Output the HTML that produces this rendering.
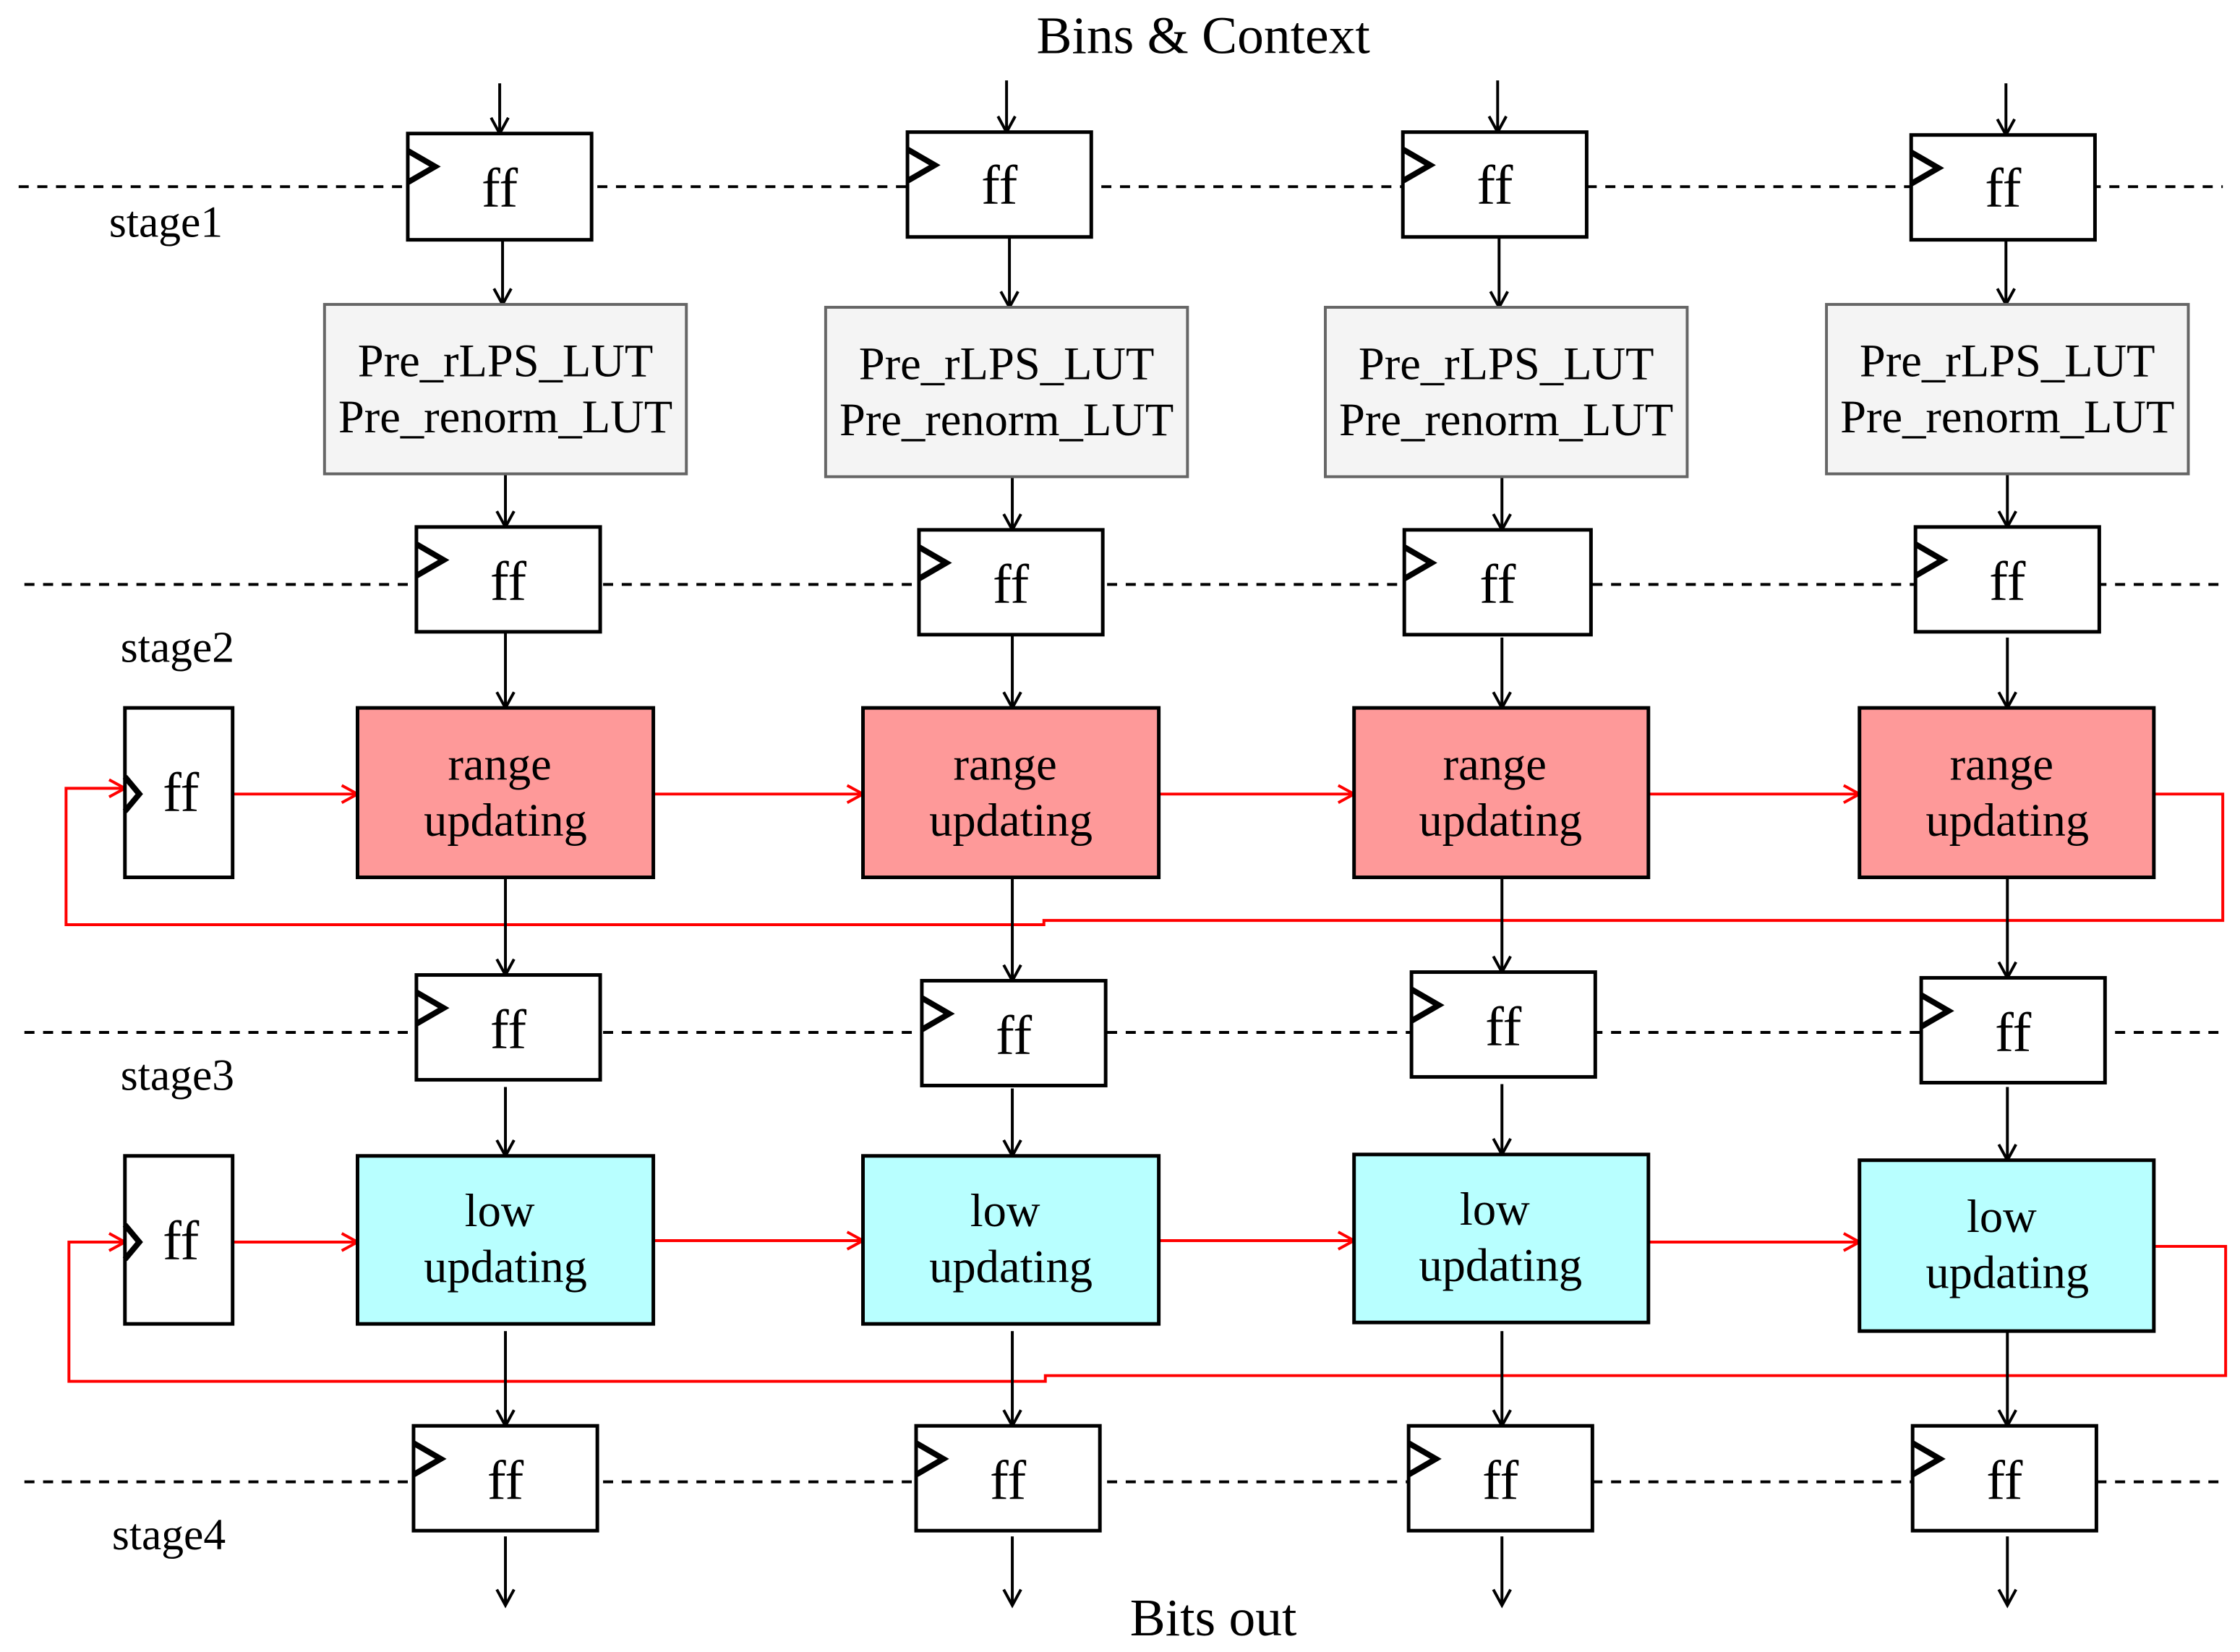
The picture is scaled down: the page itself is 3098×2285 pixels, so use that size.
<!DOCTYPE html>
<html><head><meta charset="utf-8"><style>
html,body{margin:0;padding:0;background:#fff}
svg{display:block}
text{font-family:"Liberation Serif",serif;fill:#000}
</style></head><body>
<svg width="3098" height="2285" viewBox="0 0 1560 1150.5" preserveAspectRatio="none" xmlns="http://www.w3.org/2000/svg">
<defs>
<marker id="a" markerWidth="14" markerHeight="14" refX="12" refY="7" orient="auto" markerUnits="userSpaceOnUse"><path d="M1,1 L12,7 L1,13" fill="none" stroke="#000" stroke-width="2"/></marker>
<marker id="r" markerWidth="14" markerHeight="14" refX="12" refY="7" orient="auto" markerUnits="userSpaceOnUse"><path d="M1,1 L12,7 L1,13" fill="none" stroke="#f00" stroke-width="2"/></marker>
</defs>
<g stroke="#000" stroke-width="2" stroke-dasharray="7,6">
<line x1="13" y1="130" x2="1548" y2="130"/>
<line x1="17" y1="407" x2="1550" y2="407"/>
<line x1="17" y1="719" x2="1550" y2="719"/>
<line x1="17" y1="1032" x2="1550" y2="1032"/>
</g>
<g fill="none" stroke="#f00" stroke-width="2">
<polyline points="1500,553 1548,553 1548,641 727,641 727,644 46,644 46,549 87,549" marker-end="url(#r)"/>
<polyline points="1500,868 1550,868 1550,958 728,958 728,962 48,962 48,865 87,865" marker-end="url(#r)"/>
<line x1="162" y1="553" x2="249" y2="553" marker-end="url(#r)"/>
<line x1="455" y1="553" x2="601" y2="553" marker-end="url(#r)"/>
<line x1="807" y1="553" x2="943" y2="553" marker-end="url(#r)"/>
<line x1="1148" y1="553" x2="1295" y2="553" marker-end="url(#r)"/>
<line x1="162" y1="865" x2="249" y2="865" marker-end="url(#r)"/>
<line x1="455" y1="864" x2="601" y2="864" marker-end="url(#r)"/>
<line x1="807" y1="864" x2="943" y2="864" marker-end="url(#r)"/>
<line x1="1148" y1="865" x2="1295" y2="865" marker-end="url(#r)"/>
</g>
<g stroke="#000" stroke-width="2" marker-end="url(#a)">
<line x1="348" y1="58" x2="348" y2="93"/><line x1="350" y1="167" x2="350" y2="212"/><line x1="352" y1="330" x2="352" y2="367"/><line x1="352" y1="440" x2="352" y2="493"/><line x1="352" y1="611" x2="352" y2="679"/><line x1="352" y1="757" x2="352" y2="805"/><line x1="352" y1="927" x2="352" y2="993"/><line x1="352" y1="1070" x2="352" y2="1118"/>
<line x1="701" y1="56" x2="701" y2="92"/><line x1="703" y1="165" x2="703" y2="214"/><line x1="705" y1="332" x2="705" y2="369"/><line x1="705" y1="442" x2="705" y2="493"/><line x1="705" y1="611" x2="705" y2="683"/><line x1="705" y1="758" x2="705" y2="805"/><line x1="705" y1="927" x2="705" y2="993"/><line x1="705" y1="1070" x2="705" y2="1118"/>
<line x1="1043" y1="56" x2="1043" y2="92"/><line x1="1044" y1="165" x2="1044" y2="214"/><line x1="1046" y1="332" x2="1046" y2="369"/><line x1="1046" y1="444" x2="1046" y2="493"/><line x1="1046" y1="611" x2="1046" y2="677"/><line x1="1046" y1="755" x2="1046" y2="804"/><line x1="1046" y1="927" x2="1046" y2="993"/><line x1="1046" y1="1070" x2="1046" y2="1118"/>
<line x1="1397" y1="58" x2="1397" y2="94"/><line x1="1397" y1="167" x2="1397" y2="212"/><line x1="1398" y1="330" x2="1398" y2="367"/><line x1="1398" y1="444" x2="1398" y2="493"/><line x1="1398" y1="611" x2="1398" y2="681"/><line x1="1398" y1="757" x2="1398" y2="808"/><line x1="1398" y1="927" x2="1398" y2="993"/><line x1="1398" y1="1070" x2="1398" y2="1118"/>
</g>
<g fill="#f4f4f4" stroke="#666" stroke-width="2">
<rect x="226" y="212" width="252" height="118"/><rect x="575" y="214" width="252" height="118"/><rect x="923" y="214" width="252" height="118"/><rect x="1272" y="212" width="252" height="118"/>
</g>
<g font-size="32.5" text-anchor="middle">
<text x="352" y="262">Pre_rLPS_LUT</text><text x="352" y="301">Pre_renorm_LUT</text>
<text x="701" y="264">Pre_rLPS_LUT</text><text x="701" y="303">Pre_renorm_LUT</text>
<text x="1049" y="264">Pre_rLPS_LUT</text><text x="1049" y="303">Pre_renorm_LUT</text>
<text x="1398" y="262">Pre_rLPS_LUT</text><text x="1398" y="301">Pre_renorm_LUT</text>
</g>
<g stroke="#000" stroke-width="2.5">
<g fill="#fe9999"><rect x="249" y="493" width="206" height="118"/><rect x="601" y="493" width="206" height="118"/><rect x="943" y="493" width="205" height="118"/><rect x="1295" y="493" width="205" height="118"/></g>
<g fill="#b8ffff"><rect x="249" y="805" width="206" height="117"/><rect x="601" y="805" width="206" height="117"/><rect x="943" y="804" width="205" height="117"/><rect x="1295" y="808" width="205" height="119"/></g>
</g>
<g font-size="32.5" text-anchor="middle">
<text x="348" y="543">range</text><text x="352" y="582">updating</text>
<text x="700" y="543">range</text><text x="704" y="582">updating</text>
<text x="1041" y="543">range</text><text x="1045" y="582">updating</text>
<text x="1394" y="543">range</text><text x="1398" y="582">updating</text>
<text x="348" y="854">low</text><text x="352" y="893">updating</text>
<text x="700" y="854">low</text><text x="704" y="893">updating</text>
<text x="1041" y="853">low</text><text x="1045" y="892">updating</text>
<text x="1394" y="858">low</text><text x="1398" y="897">updating</text>
</g>
<g fill="#fff" stroke="#000" stroke-width="2.5">
<rect x="284" y="93" width="128" height="74"/><rect x="632" y="92" width="128" height="73"/><rect x="977" y="92" width="128" height="73"/><rect x="1331" y="94" width="128" height="73"/>
<rect x="290" y="367" width="128" height="73"/><rect x="640" y="369" width="128" height="73"/><rect x="978" y="369" width="130" height="73"/><rect x="1334" y="367" width="128" height="73"/>
<rect x="290" y="679" width="128" height="73"/><rect x="642" y="683" width="128" height="73"/><rect x="983" y="677" width="128" height="73"/><rect x="1338" y="681" width="128" height="73"/>
<rect x="288" y="993" width="128" height="73"/><rect x="638" y="993" width="128" height="73"/><rect x="981" y="993" width="128" height="73"/><rect x="1332" y="993" width="128" height="73"/>
<rect x="87" y="493" width="75" height="118"/><rect x="87" y="805" width="75" height="117"/>
</g>
<g fill="none" stroke="#000" stroke-width="4">
<polyline points="284,105 303,116 284,127"/><polyline points="632,104 651,115 632,126"/><polyline points="977,104 996,115 977,126"/><polyline points="1331,106 1350,117 1331,128"/>
<polyline points="290,379 309,390 290,401"/><polyline points="640,381 659,392 640,403"/><polyline points="978,381 997,392 978,403"/><polyline points="1334,379 1353,390 1334,401"/>
<polyline points="290,691 309,702 290,713"/><polyline points="642,695 661,706 642,717"/><polyline points="983,689 1002,700 983,711"/><polyline points="1338,693 1357,704 1338,715"/>
<polyline points="288,1005 307,1016 288,1027"/><polyline points="638,1005 657,1016 638,1027"/><polyline points="981,1005 1000,1016 981,1027"/><polyline points="1332,1005 1351,1016 1332,1027"/>
<polyline points="87,541 97,553 87,565"/><polyline points="87,853 97,865 87,877"/>
</g>
<g font-size="39" text-anchor="middle">
<text x="348" y="144">ff</text><text x="696" y="142">ff</text><text x="1041" y="142">ff</text><text x="1395" y="144">ff</text>
<text x="354" y="418">ff</text><text x="704" y="420">ff</text><text x="1043" y="420">ff</text><text x="1398" y="418">ff</text>
<text x="354" y="730">ff</text><text x="706" y="734">ff</text><text x="1047" y="728">ff</text><text x="1402" y="732">ff</text>
<text x="352" y="1044">ff</text><text x="702" y="1044">ff</text><text x="1045" y="1044">ff</text><text x="1396" y="1044">ff</text>
<text x="126" y="565">ff</text><text x="126" y="877">ff</text>
</g>
<g font-size="31">
<text x="76" y="165">stage1</text><text x="84" y="461">stage2</text><text x="84" y="759">stage3</text><text x="78" y="1079">stage4</text>
</g>
<g font-size="37" text-anchor="middle">
<text x="838" y="37">Bins &amp; Context</text>
<text x="845" y="1139">Bits out</text>
</g>
</svg>
</body></html>
